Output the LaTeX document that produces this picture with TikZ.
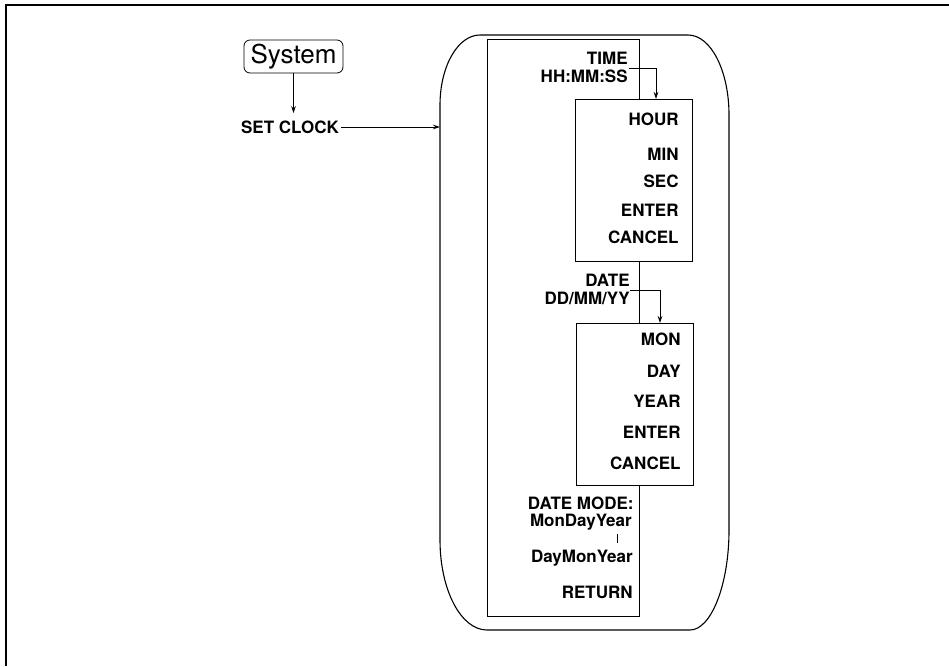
\documentclass[tikz,border=0pt]{standalone}
\usepackage{fontspec}
\setmainfont{TeX Gyre Heros}
\usepackage{tikz}
\usetikzlibrary{arrows.meta, positioning, calc}
\tikzset{
    menuitem/.style={inner sep=0pt, anchor=base east, font=\fontsize{17}{18}\selectfont\bfseries},
    subbox/.style={draw, fill=white, line width=0.9pt, minimum width=117pt, minimum height=162pt, anchor=north west, inner sep=0pt},
}

\begin{document}
\begin{tikzpicture}[x=1pt, y=-1pt, >={Stealth[length=7pt, width=4.5pt]}, line width=0.8pt]
    \useasboundingbox (0,0) rectangle (949,666);
    \draw[line width=1.4pt] (6,666) -- (6,5) -- (949,5);

    \node[draw, rounded corners=6pt, minimum width=99pt, minimum height=33pt, inner sep=0pt, font=\fontsize{26}{28}\selectfont] (sys) at (293.5,56.5) {System};
    \node[inner xsep=2pt, inner ysep=7pt, font=\fontsize{17}{18}\selectfont\bfseries] (setclock) at (290,127) {SET CLOCK};
    \coordinate (menuin) at (440,128);
    \draw[->] (sys.south) -- (sys.south |- setclock.north);
    \draw[->] (setclock.east) -- (setclock.east -| menuin);

    \draw[line width=1.1pt] (440,105) .. controls (440,66) and (458,35) .. (480,35) -- (688,35)
        .. controls (711,35) and (729,71) .. (729,115) -- (729,530)
        .. controls (729,585) and (711,630) .. (690,630) -- (487,630)
        .. controls (461,630) and (440,590) .. (440,540) -- cycle;
    \draw (487,39) rectangle (639,616);

    \node[subbox] (hourbox) at (575,99) {};
    \node[subbox] (datebox) at (576,323) {};

    \node[menuitem] (timelbl) at (628,65) {TIME};
    \node[menuitem] (hmslbl) at (628,83) {HH:MM:SS};
    \draw[->] ($(timelbl.base east)+(1,3)$) -| ($(hourbox.north west)+(81,0)$);
    \foreach \y/\txt in {125/HOUR, 160/MIN, 187/SEC, 216/ENTER, 243/CANCEL}
        \node[menuitem] (hour\y) at (679,\y) {\txt};

    \node[menuitem] (datelbl) at (630,286) {DATE};
    \node[menuitem] (dmylbl) at (630,304) {DD/MM/YY};
    \draw[->] ($(datelbl.base east)+(0,4)$) -| ($(datebox.north west)+(84,0)$);
    \foreach \y/\txt in {345/MON, 377/DAY, 407/YEAR, 438/ENTER, 469/CANCEL}
        \node[menuitem] (date\y) at (681,\y) {\txt};

    \node[menuitem] (modelbl) at (634,509) {DATE MODE:};
    \node[menuitem] (mdylbl) at (632,526) {MonDayYear};
    \draw[line width=0.6pt] (617,534) -- (617,543);
    \node[menuitem] (dmy2lbl) at (633,562) {DayMonYear};
    \node[menuitem] (retlbl) at (633,598) {RETURN};
\end{tikzpicture}
\end{document}
